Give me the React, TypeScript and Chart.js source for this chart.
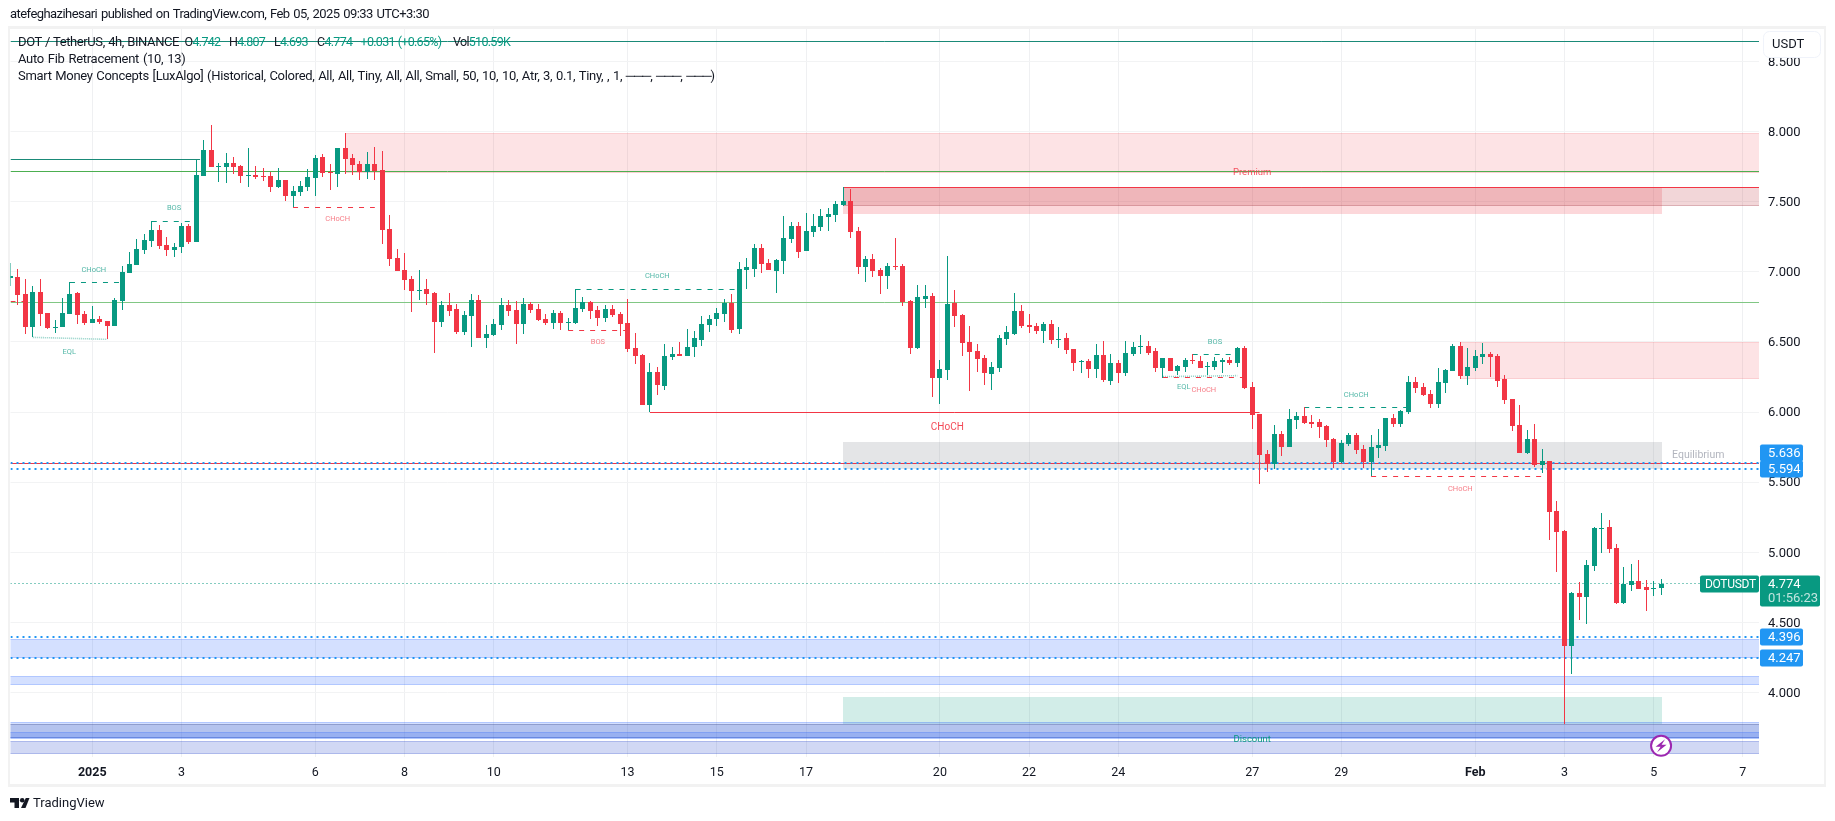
import React, { useEffect, useRef } from "react";
import { Chart, registerables } from "chart.js";

Chart.register(...registerables);

const opens = [
  6.959,6.963,6.842,6.607,6.856,6.707,6.600,6.607,6.699,6.849,
  6.699,6.635,6.664,6.650,6.614,6.792,6.992,7.049,7.156,7.220,
  7.299,7.192,7.156,7.177,7.327,7.213,7.684,7.869,7.748,7.748,
  7.777,7.755,7.684,7.691,7.684,7.684,7.605,7.655,7.541,7.570,
  7.605,7.670,7.819,7.712,7.698,7.884,7.812,7.769,7.712,7.769,
  7.727,7.306,7.099,7.013,6.949,6.863,6.878,6.849,6.642,6.764,
  6.735,6.571,6.685,6.799,6.528,6.550,6.621,6.764,6.728,6.628,
  6.771,6.735,6.664,6.635,6.706,6.635,6.635,6.735,6.785,6.728,
  6.671,6.735,6.700,6.635,6.457,6.407,6.050,6.286,6.186,6.393,
  6.414,6.400,6.464,6.514,6.621,6.664,6.700,6.778,6.593,7.014,
  7.021,7.171,7.064,7.006,7.078,7.235,7.327,7.149,7.285,7.320,
  7.392,7.406,7.477,7.506,7.292,7.035,7.092,7.014,6.971,7.042,
  7.042,6.792,6.457,6.807,6.828,6.243,6.300,6.778,6.692,6.500,
  6.436,6.386,6.272,6.314,6.521,6.557,6.721,6.621,6.614,6.578,
  6.628,6.514,6.528,6.450,6.357,6.364,6.307,6.407,6.222,6.350,
  6.279,6.414,6.464,6.471,6.436,6.314,6.386,6.293,6.322,6.372,
  6.365,6.322,6.322,6.357,6.372,6.350,6.457,6.179,5.986,5.701,
  5.630,5.844,5.751,5.944,5.972,5.930,5.930,5.901,5.808,5.644,
  5.773,5.837,5.737,5.644,5.744,5.758,5.958,5.915,6.001,6.215,
  6.179,6.129,6.058,6.208,6.294,6.472,6.258,6.315,6.393,6.415,
  6.400,6.236,6.094,5.908,5.709,5.808,5.623,5.651,5.294,5.152,
  4.331,4.709,4.681,4.902,5.166,5.180,5.031,4.638,4.766,4.795,
  4.752,4.738,4.742,
];
const highs = [
  7.061,7.020,6.947,6.899,6.949,6.707,6.657,6.814,6.925,6.856,
  6.721,6.756,6.685,6.650,6.814,7.042,7.142,7.234,7.270,7.363,
  7.334,7.249,7.206,7.348,7.341,7.798,7.941,8.048,7.777,7.848,
  7.819,7.762,7.884,7.755,7.741,7.712,7.741,7.655,7.613,7.648,
  7.734,7.834,7.841,7.769,7.884,7.991,7.841,7.791,7.855,7.891,
  7.862,7.406,7.163,7.135,6.970,7.013,6.949,6.856,6.792,6.849,
  6.771,6.721,6.842,6.835,6.621,6.664,6.813,6.799,6.792,6.813,
  6.785,6.771,6.699,6.728,6.721,6.671,6.878,6.821,6.792,6.756,
  6.764,6.764,6.714,6.807,6.564,6.414,6.350,6.321,6.486,6.464,
  6.500,6.593,6.578,6.685,6.693,6.742,6.807,6.842,7.071,7.099,
  7.199,7.199,7.092,7.092,7.399,7.356,7.356,7.420,7.413,7.449,
  7.456,7.506,7.603,7.591,7.320,7.113,7.128,7.028,7.064,7.242,
  7.056,6.799,6.906,6.906,6.849,6.371,7.113,6.871,6.700,6.614,
  6.486,6.407,6.357,6.550,6.614,6.849,6.764,6.700,6.635,6.642,
  6.657,6.607,6.564,6.450,6.371,6.379,6.486,6.507,6.414,6.371,
  6.507,6.500,6.550,6.507,6.457,6.386,6.386,6.336,6.386,6.415,
  6.400,6.357,6.393,6.386,6.393,6.464,6.471,6.215,5.986,5.730,
  5.908,5.865,6.022,6.001,6.034,5.980,5.951,5.908,5.816,5.801,
  5.851,5.851,5.766,5.837,5.879,5.958,5.986,6.015,6.258,6.251,
  6.208,6.158,6.315,6.308,6.486,6.500,6.457,6.443,6.493,6.429,
  6.415,6.265,6.094,6.051,5.873,5.915,5.737,5.651,5.366,5.159,
  4.717,4.788,4.945,5.180,5.280,5.230,5.059,4.895,4.916,4.945,
  4.802,4.795,4.807,
];
const lows = [
  6.902,6.764,6.557,6.533,6.614,6.592,6.566,6.607,6.699,6.628,
  6.621,6.635,6.628,6.519,6.614,6.728,6.992,7.049,7.127,7.177,
  7.163,7.113,7.106,7.134,7.199,7.213,7.684,7.748,7.641,7.634,
  7.698,7.634,7.605,7.662,7.648,7.570,7.598,7.505,7.460,7.541,
  7.577,7.541,7.677,7.584,7.605,7.698,7.691,7.655,7.662,7.655,
  7.199,7.042,7.006,6.871,6.714,6.799,6.764,6.421,6.607,6.685,
  6.557,6.550,6.464,6.528,6.457,6.542,6.585,6.685,6.485,6.557,
  6.706,6.649,6.621,6.592,6.585,6.585,6.628,6.714,6.664,6.614,
  6.643,6.678,6.543,6.429,6.343,6.050,5.998,6.122,6.158,6.371,
  6.400,6.400,6.393,6.471,6.571,6.614,6.643,6.564,6.557,6.878,
  6.964,6.992,7.014,6.849,6.985,7.206,7.099,7.149,7.249,7.292,
  7.292,7.356,7.470,7.242,6.985,6.928,6.964,6.842,6.878,7.014,
  6.757,6.414,6.450,6.742,6.107,6.058,6.229,6.607,6.400,6.150,
  6.286,6.193,6.157,6.286,6.478,6.550,6.600,6.564,6.557,6.493,
  6.486,6.457,6.414,6.293,6.279,6.243,6.243,6.214,6.193,6.207,
  6.257,6.400,6.414,6.407,6.286,6.245,6.293,6.264,6.286,6.343,
  6.315,6.265,6.300,6.279,6.336,6.322,6.165,5.879,5.487,5.573,
  5.594,5.687,5.751,5.879,5.915,5.887,5.816,5.751,5.601,5.637,
  5.758,5.701,5.601,5.544,5.673,5.723,5.894,5.894,5.986,6.137,
  6.115,6.030,6.030,6.137,6.294,6.236,6.194,6.294,6.343,6.251,
  6.179,6.058,5.865,5.709,5.701,5.608,5.566,5.087,4.859,3.775,
  4.131,4.517,4.488,4.866,4.995,4.995,4.631,4.631,4.724,4.738,
  4.581,4.688,4.693,
];
const closes = [
  6.971,6.835,6.607,6.856,6.699,6.600,6.607,6.707,6.842,6.692,
  6.635,6.664,6.642,6.614,6.799,6.999,7.056,7.163,7.227,7.299,
  7.184,7.156,7.177,7.327,7.213,7.691,7.869,7.748,7.755,7.777,
  7.748,7.684,7.691,7.677,7.677,7.605,7.655,7.541,7.577,7.613,
  7.677,7.812,7.705,7.705,7.884,7.805,7.762,7.712,7.769,7.720,
  7.299,7.092,7.006,6.942,6.863,6.871,6.842,6.642,6.764,6.721,
  6.571,6.692,6.799,6.528,6.557,6.628,6.764,6.721,6.628,6.771,
  6.728,6.657,6.635,6.706,6.635,6.642,6.742,6.785,6.721,6.671,
  6.735,6.693,6.628,6.450,6.400,6.050,6.286,6.193,6.400,6.414,
  6.400,6.464,6.528,6.628,6.664,6.707,6.778,6.585,7.021,7.035,
  7.171,7.056,7.014,7.085,7.242,7.327,7.142,7.292,7.327,7.399,
  7.413,7.485,7.506,7.285,7.035,7.092,7.006,6.971,7.042,7.035,
  6.785,6.457,6.821,6.828,6.243,6.307,6.771,6.685,6.493,6.429,
  6.379,6.279,6.321,6.528,6.571,6.721,6.614,6.607,6.578,6.628,
  6.514,6.521,6.443,6.350,6.364,6.307,6.407,6.229,6.350,6.279,
  6.421,6.464,6.471,6.421,6.314,6.386,6.293,6.329,6.372,6.365,
  6.315,6.329,6.365,6.372,6.350,6.457,6.172,5.979,5.694,5.630,
  5.844,5.751,5.951,5.972,5.923,5.915,5.894,5.801,5.644,5.780,
  5.837,5.730,5.644,5.751,5.766,5.958,5.915,6.008,6.215,6.172,
  6.122,6.058,6.215,6.301,6.472,6.258,6.322,6.400,6.415,6.393,
  6.222,6.087,5.901,5.709,5.808,5.623,5.651,5.287,5.144,4.331,
  4.709,4.681,4.909,5.173,5.173,5.023,4.638,4.774,4.795,4.738,
  4.731,4.745,4.774,
];

const LAST_X = 235.17;

const dayTickIndex = [11, 23, 41, 53, 65, 83, 95, 107, 125, 137, 149, 167, 179, 197, 209, 221, 233];
const dayTickLabels = ["2025", "3", "6", "8", "10", "13", "15", "17", "20", "22", "24", "27", "29", "Feb", "3", "5", "7"];
const priceTicks = [4, 4.5, 5, 5.5, 6, 6.5, 7, 7.5, 8, 8.5];

// Horizontal levels: price, first bar, last bar, style name
const levelPrices = [8.643, 7.803, 7.717, 6.783, 5.636, 5.594, 5.635, 4.398, 4.247, 4.774, 7.603,
  6.926, 7.361, 7.461, 6.787, 6.876, 6.583, 5.999, 6.411, 6.248, 6.034, 5.543];
const levelFrom = [0, 0, 0, 0, 0, 0, 0, 0, 0, 0, 112,
  8, 19, 38, 0, 76, 75, 86, 159, 155, 174, 183];
const levelTo = [LAST_X, 25.5, LAST_X, LAST_X, LAST_X, LAST_X, LAST_X, LAST_X, LAST_X, LAST_X, LAST_X,
  15, 25, 49, 2, 98, 83, 168, 165, 166, 188, 206];
const levelKinds = ["tealDark", "tealDark", "greenDark", "greenLight", "blueDots", "blueDots", "redSolid", "blueDots", "blueDots", "lastDots", "redSolid",
  "tealDash", "tealDash", "redDash", "redDash", "tealDash", "redDash", "redSolid", "tealDash", "redDash", "tealDash", "redDash"];

// Equal-low links (slightly sloped)
const eqlFromBars = [3, 155];
const eqlToBars = [13, 165];
const eqlFromPrices = [6.533, 6.253];
const eqlToPrices = [6.519, 6.26];

// Rectangles: top price, bottom price, first bar, last bar, style name
const zoneTops = [7.991, 6.498, 7.603, 7.603, 5.787, 3.968, 4.38, 4.118, 3.787, 3.773, 3.718, 3.654];
const zoneBottoms = [7.703, 6.238, 7.413, 7.472, 5.594, 3.775, 4.247, 4.051, 3.665, 3.675, 3.675, 3.561];
const zoneFrom = [45, 195, 112, 112, 112, 112, 0, 0, 0, 0, 0, 0];
const zoneTo = [LAST_X, LAST_X, 222, LAST_X, 222, 222, LAST_X, LAST_X, LAST_X, LAST_X, LAST_X, LAST_X];
const zoneKinds = ["pink", "pink", "redLow", "redHigh", "gray", "green", "blue", "blue", "blue", "slate", "blue", "indigo"];

// Structure labels
const noteTexts = ["CHoCH", "EQL", "BOS", "CHoCH", "CHoCH", "BOS", "CHoCH", "BOS", "CHoCH", "EQL", "CHoCH", "CHoCH", "Premium", "Equilibrium", "Discount"];
const noteBars = [11.2, 7.9, 22, 44, 87, 79, 126, 162, 160.5, 157.8, 181, 195, 167, 227, 167];
const notePrices = [7.016, 6.431, 7.454, 7.375, 6.969, 6.498, 5.892, 6.498, 6.16, 6.177, 6.124, 5.454, 7.71, 5.69, 3.664];
const noteKinds = ["tealTiny", "tealTiny", "tealTiny", "redTiny", "tealTiny", "redTiny", "redBig", "tealTiny", "redTiny", "tealTiny", "tealTiny", "redTiny", "premium", "equilibrium", "discount"];

// Price-axis badges
const badgeValues = [5.636, 5.594, 4.396, 4.247];
const badgeLift = [10.5, 0, 0, 0];
const lastPrice = 4.774;
const countdown = "01:56:23";
const pairName = "DOTUSDT";
const alertBar = 222;
const alertPrice = 3.62;

// Legend values
const legendLetters = ["O", "H", "L", "C"];
const legendValues = ["4.742", "4.807", "4.693", "4.774"];
const legendLefts = [184.6, 229, 274, 317];

const TEAL = "#089981";
const RED = "#F23645";
const BLUE = "#2196F3";

const LINE_STYLES: Record<string, any> = {
  tealDark: { color: "#1a8a78", width: 1, dash: [] },
  greenDark: { color: "#4caf50", width: 1, dash: [] },
  greenLight: { color: "#81c784", width: 1, dash: [] },
  blueDots: { color: BLUE, width: 2, dash: [2, 4] },
  lastDots: { color: TEAL, width: 1, dash: [1, 3] },
  redSolid: { color: RED, width: 1, dash: [] },
  tealDash: { color: TEAL, width: 1, dash: [5, 6] },
  redDash: { color: RED, width: 1, dash: [5, 6] },
};

const ZONE_STYLES: Record<string, any> = {
  pink: { fill: "rgba(242,54,69,0.14)", edge: "rgba(242,54,69,0.12)" },
  redLow: { fill: "rgba(242,54,69,0.2)", edge: "rgba(0,0,0,0)" },
  redHigh: { fill: "rgba(192,48,61,0.2)", edge: "rgba(150,60,70,0.25)" },
  gray: { fill: "rgba(120,123,134,0.2)", edge: "rgba(0,0,0,0)" },
  green: { fill: "rgba(8,153,129,0.18)", edge: "rgba(0,0,0,0)" },
  blue: { fill: "rgba(41,98,255,0.2)", edge: "rgba(41,98,255,0.2)" },
  slate: { fill: "rgba(41,65,160,0.18)", edge: "rgba(60,70,130,0.3)" },
  indigo: { fill: "rgba(25,60,200,0.2)", edge: "rgba(25,60,200,0.2)" },
};

const NOTE_STYLES: Record<string, any> = {
  tealTiny: { font: "7.5px Roboto", color: "rgba(8,153,129,0.7)" },
  redTiny: { font: "7.5px Roboto", color: "rgba(242,54,69,0.65)" },
  redBig: { font: "10px Roboto", color: "rgba(242,54,69,0.9)" },
  premium: { font: "9.5px Roboto", color: "rgba(242,54,69,0.85)" },
  equilibrium: { font: "10.5px Roboto", color: "#b2b5be" },
  discount: { font: "9.5px Roboto", color: TEAL },
};

const snapPlugin = {
  id: "snap",
  afterDatasetsUpdate(chart: any) {
    chart.data.datasets.forEach((ds: any, i: number) => {
      const meta = chart.getDatasetMeta(i);
      if (meta.type === "bar") {
        meta.data.forEach((el: any) => {
          el.x = Math.floor(el.x) + 0.5;
          el.y = Math.round(el.y);
          el.base = Math.round(el.base);
          if (el.y === el.base) el.base = el.y + 1;
        });
      } else if (ds.borderWidth === 1) {
        meta.data.forEach((pt: any) => {
          pt.y = Math.floor(pt.y) + 0.5;
        });
      } else if (!ds.sloped) {
        meta.data.forEach((pt: any) => {
          pt.y = Math.round(pt.y);
        });
      }
    });
  },
};

const roundedBox = (ctx: CanvasRenderingContext2D, x: number, y: number, w: number, h: number, r: number) => {
  ctx.beginPath();
  ctx.roundRect(x, y, w, h, r);
  ctx.fill();
};

const paintPlugin = {
  id: "paint",
  beforeDraw(chart: any) {
    const { ctx, width, height } = chart;
    ctx.save();
    ctx.fillStyle = "#ffffff";
    ctx.fillRect(0, 0, width, height);
    ctx.fillStyle = "#f2f2f2";
    ctx.fillRect(8, 26, 1818, 761);
    ctx.fillStyle = "#ffffff";
    ctx.fillRect(10, 29, 1814, 755);
    ctx.restore();
  },
  beforeDatasetsDraw(chart: any) {
    const { ctx, chartArea, scales } = chart;
    ctx.save();
    ctx.beginPath();
    ctx.rect(chartArea.left, chartArea.top, chartArea.width, chartArea.height);
    ctx.clip();
    zoneTops.forEach((top, i) => {
      const s = ZONE_STYLES[zoneKinds[i]];
      const x0 = Math.floor(scales.x.getPixelForValue(zoneFrom[i]));
      const x1 = Math.ceil(scales.x.getPixelForValue(zoneTo[i]));
      const y0 = Math.round(scales.y.getPixelForValue(top));
      const y1 = Math.round(scales.y.getPixelForValue(zoneBottoms[i]));
      ctx.fillStyle = s.fill;
      ctx.fillRect(x0, y0, x1 - x0, y1 - y0);
      ctx.fillStyle = s.edge;
      ctx.fillRect(x0, y0, x1 - x0, 1);
      ctx.fillRect(x0, y1 - 1, x1 - x0, 1);
    });
    ctx.restore();
  },
  afterDatasetsDraw(chart: any) {
    const { ctx, scales } = chart;
    ctx.save();
    ctx.textAlign = "center";
    ctx.textBaseline = "middle";
    noteTexts.forEach((t, i) => {
      const s = NOTE_STYLES[noteKinds[i]];
      ctx.font = s.font;
      ctx.fillStyle = s.color;
      ctx.fillText(t, scales.x.getPixelForValue(noteBars[i]), scales.y.getPixelForValue(notePrices[i]));
    });
    ctx.restore();
  },
  afterDraw(chart: any) {
    const { ctx, scales, chartArea } = chart;
    const left = chartArea.right + 1;
    ctx.save();
    ctx.textBaseline = "middle";
    // blue level badges
    badgeValues.forEach((v, i) => {
      const cy = Math.round(scales.y.getPixelForValue(v) - badgeLift[i]);
      ctx.fillStyle = BLUE;
      roundedBox(ctx, left, cy - 8.5, 43, 17, 2);
      ctx.fillStyle = "#ffffff";
      ctx.font = "13px Roboto";
      ctx.textAlign = "left";
      ctx.fillText(v.toFixed(3), left + 8, cy + 0.5);
    });
    // last price badge and pair name
    const py = Math.round(scales.y.getPixelForValue(lastPrice));
    ctx.fillStyle = TEAL;
    roundedBox(ctx, left, py - 8.5, 60, 31, 2);
    roundedBox(ctx, chartArea.right - 59, py - 8.5, 59, 17, 2);
    ctx.fillStyle = "#ffffff";
    ctx.font = "13px Roboto";
    ctx.textAlign = "left";
    ctx.fillText(lastPrice.toFixed(3), left + 8, py + 0.5);
    ctx.save();
    ctx.font = "12px Roboto";
    (ctx as any).letterSpacing = "-0.3px";
    ctx.fillText(pairName, chartArea.right - 54, py + 0.5);
    ctx.restore();
    ctx.fillStyle = "rgba(255,255,255,0.75)";
    ctx.fillText(countdown, left + 8, py + 14.5);
    // currency button
    ctx.fillStyle = "#ffffff";
    ctx.strokeStyle = "#f0f3fa";
    ctx.lineWidth = 1;
    ctx.beginPath();
    ctx.roundRect(chartArea.right + 4.5, 31.5, 57, 26, 6);
    ctx.fill();
    ctx.stroke();
    ctx.fillStyle = "#131722";
    ctx.fillText("USDT", chartArea.right + 13, 44.5);
    // alert icon
    const ax = scales.x.getPixelForValue(alertBar);
    const ay = scales.y.getPixelForValue(alertPrice);
    ctx.beginPath();
    ctx.arc(ax, ay, 10, 0, Math.PI * 2);
    ctx.fillStyle = "#ffffff";
    ctx.fill();
    ctx.strokeStyle = "#9c27b0";
    ctx.lineWidth = 2;
    ctx.stroke();
    ctx.beginPath();
    ctx.moveTo(ax + 4, ay - 6.5);
    ctx.lineTo(ax - 5.5, ay + 1);
    ctx.lineTo(ax - 0.5, ay + 1);
    ctx.lineTo(ax - 4, ay + 6.5);
    ctx.lineTo(ax + 5.5, ay - 1);
    ctx.lineTo(ax + 0.5, ay - 1);
    ctx.closePath();
    ctx.fillStyle = "#9c27b0";
    ctx.fill();
    // brand mark
    ctx.fillStyle = "#131722";
    ctx.beginPath();
    ctx.moveTo(10, 798);
    ctx.lineTo(19, 798);
    ctx.lineTo(19, 808);
    ctx.lineTo(14.5, 808);
    ctx.lineTo(14.5, 802.5);
    ctx.lineTo(10, 802.5);
    ctx.closePath();
    ctx.fill();
    ctx.beginPath();
    ctx.arc(22.2, 800.3, 2.3, 0, Math.PI * 2);
    ctx.fill();
    ctx.beginPath();
    ctx.moveTo(25.8, 798);
    ctx.lineTo(29.5, 798);
    ctx.lineTo(25.5, 808);
    ctx.lineTo(21, 808);
    ctx.closePath();
    ctx.fill();
    ctx.restore();
  },
};

const textBase: React.CSSProperties = {
  position: "absolute",
  fontFamily: "Roboto, sans-serif",
  fontSize: 13,
  color: "#131722",
  whiteSpace: "pre",
  lineHeight: "16px",
  letterSpacing: "-0.3px",
  wordSpacing: "1px",
};
const valueBase: React.CSSProperties = { ...textBase, top: 34, fontSize: 12.5, letterSpacing: "-0.7px", wordSpacing: "0.5px" };

const Teal = ({ children }: { children: React.ReactNode }) => <span style={{ color: TEAL }}>{children}</span>;
const Dash = () => <span style={{ letterSpacing: "-1.1px" }}>───</span>;

export default function App() {
  const ref = useRef<HTMLCanvasElement | null>(null);

  useEffect(() => {
    if (!ref.current) return;
    const bars = opens.map((_, i) => i);
    const colors = bars.map((i) => (closes[i] >= opens[i] ? TEAL : RED));
    const levelDatasets = levelPrices.map((p, i) => {
      const s = LINE_STYLES[levelKinds[i]];
      return {
        type: "line" as const,
        data: [
          { x: levelFrom[i], y: p },
          { x: levelTo[i], y: p },
        ],
        borderColor: s.color,
        borderWidth: s.width,
        borderDash: s.dash,
        pointRadius: 0,
        tension: 0,
        order: 3,
      };
    });
    const eqlDatasets = eqlFromBars.map((b, i) => ({
      type: "line" as const,
      sloped: true,
      data: [
        { x: b, y: eqlFromPrices[i] },
        { x: eqlToBars[i], y: eqlToPrices[i] },
      ],
      borderColor: "rgba(8,153,129,0.45)",
      borderWidth: 1.6,
      borderDash: [1, 1],
      pointRadius: 0,
      tension: 0,
      order: 3,
    }));
    const chart = new Chart(ref.current, {
      type: "bar",
      data: {
        datasets: [
          {
            data: bars.map((i) => ({ x: i, y: [opens[i], closes[i]] })),
            backgroundColor: colors,
            barThickness: 5,
            grouped: false,
            inflateAmount: 0,
            borderWidth: 0,
            order: 0,
          },
          {
            data: bars.map((i) => ({ x: i, y: [lows[i], highs[i]] })),
            backgroundColor: colors,
            barThickness: 1,
            grouped: false,
            inflateAmount: 0,
            borderWidth: 0,
            order: 1,
          },
          ...levelDatasets,
          ...eqlDatasets,
        ] as any,
      },
      options: {
        animation: false,
        responsive: false,
        devicePixelRatio: 1,
        events: [],
        layout: { padding: { left: 10.5, top: 29, right: 0, bottom: 0 } },
        plugins: { legend: { display: false }, tooltip: { enabled: false } },
        scales: {
          x: {
            type: "linear",
            min: 0,
            max: LAST_X,
            offset: false,
            border: { display: false },
            grid: { color: "#eff0f2", drawTicks: false, offset: false },
            afterBuildTicks: (axis: any) => {
              axis.ticks = dayTickIndex.map((v) => ({ value: v }));
            },
            afterFit: (axis: any) => {
              axis.height = 64;
            },
            ticks: {
              autoSkip: false,
              maxRotation: 0,
              padding: 8,
              color: "#131722",
              font: (ctx: any) => {
                const i = dayTickIndex.indexOf(ctx.tick?.value);
                const strong = dayTickLabels[i] === "2025" || dayTickLabels[i] === "Feb";
                return { family: "Roboto", size: 12.5, weight: strong ? "bold" : "normal" };
              },
              callback: (v: any) => dayTickLabels[dayTickIndex.indexOf(v)] ?? "",
            },
          },
          y: {
            type: "linear",
            position: "right",
            min: 3.5399,
            max: 8.7325,
            border: { display: false },
            grid: { color: "#f2f3f4", drawTicks: false },
            afterBuildTicks: (axis: any) => {
              axis.ticks = priceTicks.map((v) => ({ value: v }));
            },
            afterFit: (axis: any) => {
              axis.width = 76;
            },
            ticks: {
              padding: 9,
              labelOffset: 1,
              color: "#131722",
              font: { family: "Roboto", size: 13 },
              callback: (v: any) => Number(v).toFixed(3),
            },
          },
        },
      } as any,
      plugins: [snapPlugin, paintPlugin],
    });
    return () => chart.destroy();
  }, []);

  return (
    <div style={{ position: "absolute", left: 0, top: 0, width: 1835, height: 821, overflow: "hidden", background: "#fff" }}>
      <canvas ref={ref} width={1835} height={821} style={{ position: "absolute", left: 0, top: 0, width: 1835, height: 821 }} />
      <div style={{ ...textBase, left: 10, top: 6, letterSpacing: "-0.55px" }}>atefeghazihesari published on TradingView.com, Feb 05, 2025 09:33 UTC+3:30</div>
      <div style={{ ...textBase, left: 18, top: 34, letterSpacing: "-0.4px", wordSpacing: "0.5px" }}>DOT / TetherUS, 4h, BINANCE</div>
      {legendLefts.map((x, i) => (
        <div key={i} style={{ ...valueBase, left: x }}>
          {legendLetters[i]}
          <Teal>{legendValues[i]}</Teal>
        </div>
      ))}
      <div style={{ ...valueBase, left: 360.5 }}>
        <Teal>+0.031 (+0.65%)</Teal>
      </div>
      <div style={{ ...valueBase, left: 453 }}>
        Vol<Teal>510.59K</Teal>
      </div>
      <div style={{ ...textBase, left: 18, top: 51 }}>Auto Fib Retracement (10, 13)</div>
      <div style={{ ...textBase, left: 18, top: 68, wordSpacing: "0.7px" }}>
        Smart Money Concepts [LuxAlgo] (Historical, Colored, All, All, Tiny, All, All, Small, 50, 10, 10, Atr, 3, 0.1, Tiny, , 1, <Dash />, <Dash />, <Dash />)
      </div>
      <div style={{ ...textBase, left: 33, top: 795, fontSize: 13, letterSpacing: "0px" }}>TradingView</div>
    </div>
  );
}
